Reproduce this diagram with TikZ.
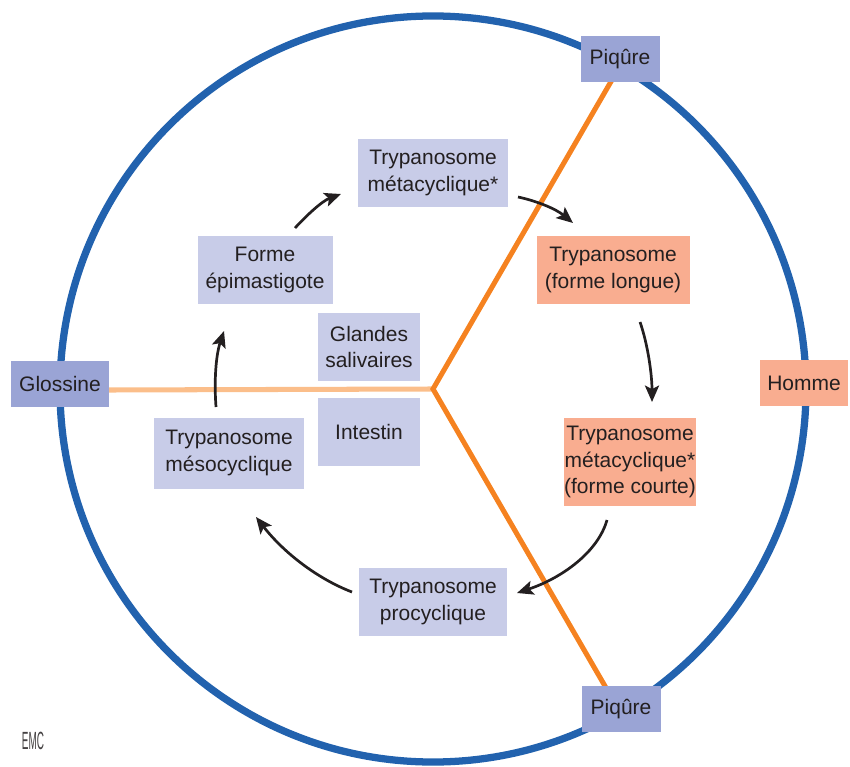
\documentclass[tikz,border=0pt]{standalone}
\usepackage{fontspec}
\setmainfont{Liberation Sans}
\usetikzlibrary{arrows.meta}
\definecolor{cblue}{HTML}{2262AE}
\definecolor{corange}{HTML}{F58220}
\definecolor{clorange}{HTML}{FBBE8A}
\definecolor{clav}{HTML}{C8CCE8}
\definecolor{cdlav}{HTML}{9AA4D5}
\definecolor{csalmon}{HTML}{F9AD90}
\definecolor{ctext}{HTML}{231F20}
\tikzset{
  x=0.03cm, y=-0.03cm,
  box/.style={inner sep=0pt, align=center, text=ctext,
    font=\fontsize{17.9}{22.3}\selectfont},
  lav/.style={box, fill=clav},
  dlav/.style={box, fill=cdlav},
  salm/.style={box, fill=csalmon},
  cyc/.style={draw=ctext, line width=2.3pt, -{Stealth[length=14pt,width=12pt,inset=3pt]}},
}
\begin{document}
\begin{tikzpicture}
\useasboundingbox (0,0) rectangle (850,767);
% circle
\coordinate (c) at (433,389);
\draw[cblue, line width=6.2pt] (c) circle [radius=11.19cm];
% lines
\coordinate (ptop) at (620,66);
\coordinate (pbot) at (620,712);
% boxes
\node[dlav, minimum width=2.94cm, minimum height=1.38cm] (glossine) at (60,384) {Glossine};
\node[salm, minimum width=2.64cm, minimum height=1.38cm] (homme) at (804,383) {Homme};
\draw[clorange, line width=4.3pt] (glossine.east |- 0,390) -- (c);
\draw[corange, line width=4.3pt, line join=miter] (ptop) -- (c) -- (pbot);
\node[dlav, minimum width=2.37cm, minimum height=1.38cm] (piq1) at (620,59) {Piqûre};
\node[dlav, minimum width=2.37cm, minimum height=1.38cm] (piq2) at (621,709) {Piqûre};
\node[lav, minimum width=4.5cm, minimum height=2.01cm] (meta) at (433,173) {Trypanosome\\métacyclique*};
\node[lav, minimum width=4.05cm, minimum height=2.04cm] (epi) at (265,270) {Forme\\épimastigote};
\node[lav, minimum width=3.06cm, minimum height=2.01cm] (gland) at (369,347) {Glandes\\salivaires};
\node[lav, minimum width=3.06cm, minimum height=2.04cm] (intes) at (369,432) {Intestin};
\node[lav, minimum width=4.47cm, minimum height=2.13cm] (meso) at (229,453) {Trypanosome\\mésocyclique};
\node[lav, minimum width=4.44cm, minimum height=2.04cm] (proc) at (433,602) {Trypanosome\\procyclique};
\node[salm, minimum width=4.59cm, minimum height=2.04cm] (longue) at (613,270) {Trypanosome\\(forme longue)};
\node[salm, minimum width=3.63cm, minimum height=2.64cm] (courte) at (630,462) {Trypanosome\\métacyclique*\\(forme courte)};
% arrows
\coordinate (a1s) at (295,228); \coordinate (a1e) at (341,194);
\coordinate (a2s) at (518,197); \coordinate (a2e) at (573,223);
\coordinate (a3s) at (640,322); \coordinate (a3e) at (652,402);
\coordinate (a4s) at (607,520); \coordinate (a4e) at (517,593);
\coordinate (a5s) at (352,592); \coordinate (a5e) at (256,517);
\coordinate (a6s) at (216,407); \coordinate (a6e) at (224,331);
\draw[cyc] (a1s) .. controls (306,216) and (322,201) .. (a1e);
\draw[cyc] (a2s) .. controls (537,201) and (556,209) .. (a2e);
\draw[cyc] (a3s) .. controls (648,345) and (652,375) .. (a3e);
\draw[cyc] (a4s) .. controls (598,552) and (562,578) .. (a4e);
\draw[cyc] (a5s) .. controls (318,579) and (284,553) .. (a5e);
\draw[cyc] (a6s) .. controls (214,380) and (216,355) .. (a6e);
% logo
\node[text=ctext!85, inner sep=0pt, font=\fontsize{17}{17}\selectfont] (emc) at (33,741) {\scalebox{0.5}[1.25]{EMC}};
\end{tikzpicture}
\end{document}
